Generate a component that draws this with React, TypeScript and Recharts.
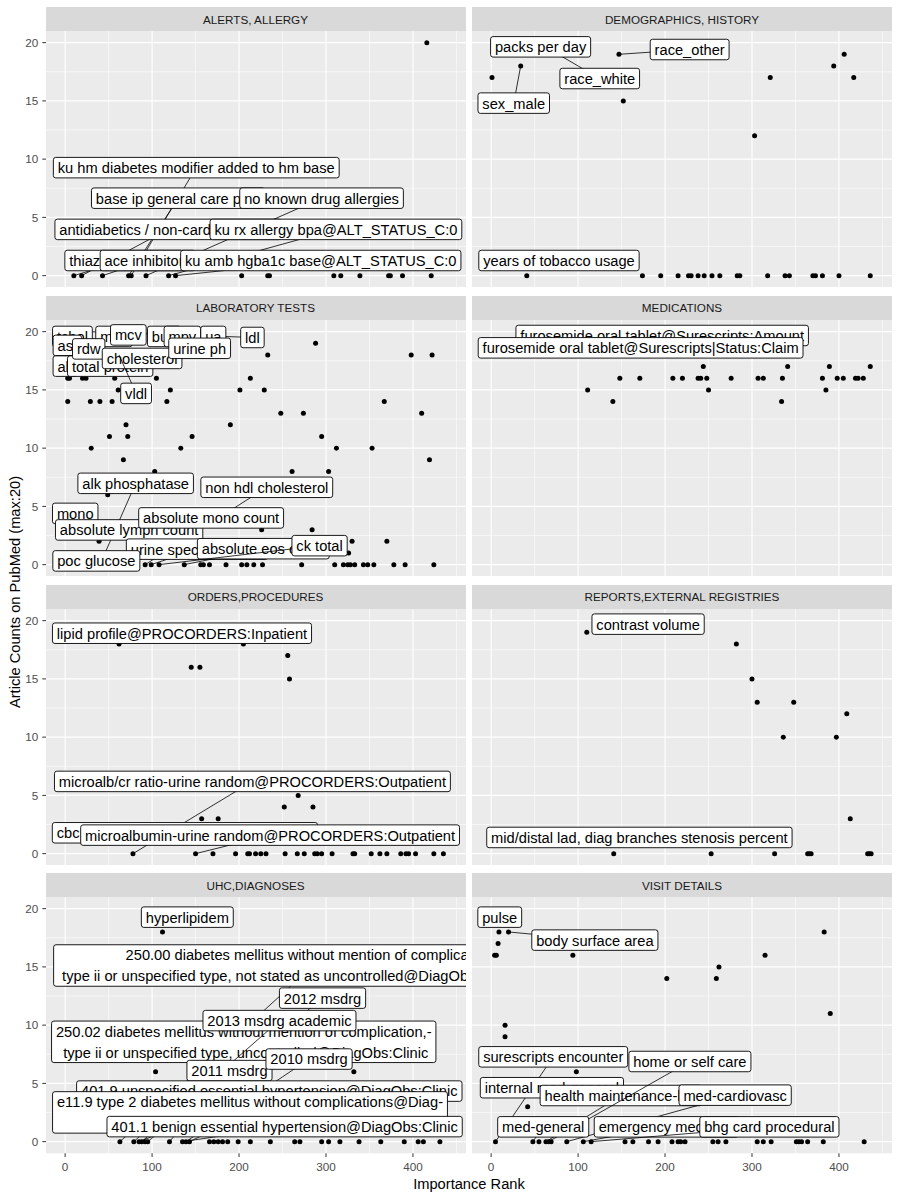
import React from 'react';
import { ScatterChart, Scatter, XAxis, YAxis, CartesianGrid } from 'recharts';

type Pt = [number, number];
// [text, label x, label y, point x, point y] - the point is the one the segment joins
type Lab = [string, number, number, number?, number?];

const FONT = '"Liberation Sans", Arial, sans-serif';

const X_TICKS = [0, 100, 200, 300, 400];
const X_MINOR = [50, 150, 250, 350, 450];
const Y_TICKS = [0, 5, 10, 15, 20];
const Y_MINOR = [2.5, 7.5, 12.5, 17.5];
const X_DOMAIN: [number, number] = [-22, 461];
const Y_DOMAIN: [number, number] = [-1, 21];

// ---- ALERTS, ALLERGY ----
const ALERTS_PTS: Pt[] = [
  [10, 0], [19, 0], [43, 0], [73, 0], [76, 0], [93, 0], [119, 0], [127, 0], [203, 0], [233, 0],
  [235, 0], [309, 0], [317, 0], [339, 0], [372, 0], [374, 0], [388, 0], [421, 0], [416, 20],
];
const ALERTS_LABELS: Lab[] = [
  ['ku hm diabetes modifier added to hm base', 150.8, 9.27, 76, 0],
  ['base ip general care plan', 130, 6.65, 73, 0],
  ['no known drug allergies', 294.9, 6.65, 93, 0],
  ['antidiabetics / non-cardiovascular', 118.4, 3.97, 19, 0],
  ['ku rx allergy bpa@ALT_STATUS_C:0', 311.4, 3.97, 119, 0],
  ['thiazide diuretics', 67.5, 1.3, 10, 0],
  ['ace inhibitors', 95, 1.3, 43, 0],
  ['ku amb hgba1c base@ALT_STATUS_C:0', 294, 1.3, 127, 0],
];

// ---- DEMOGRAPHICS, HISTORY ----
const DEMO_PTS: Pt[] = [
  [1, 17], [34, 18], [147, 19], [152, 15], [303, 12], [321, 17], [394, 18], [406, 19], [417, 17],
  [57, 20], [77, 19],
  [41, 0], [174, 0], [195, 0], [215, 0], [227, 0], [230, 0], [238, 0], [245, 0], [254, 0], [263, 0],
  [283, 0], [286, 0], [318, 0], [338, 0], [343, 0], [370, 0], [373, 0], [381, 0], [400, 0], [436, 0],
];
const DEMO_LABELS: Lab[] = [
  ['race_white', 124.9, 16.92, 77, 19],
  ['packs per day', 56.9, 19.64],
  ['race_other', 228.3, 19.41, 147, 19],
  ['sex_male', 26, 14.81, 34, 18],
  ['years of tobacco usage', 78, 1.3],
];

// ---- LABORATORY TESTS ----
const LAB_PTS: Pt[] = [
  [28, 20], [288, 19], [233, 18], [398, 18], [422, 18], [62, 18],
  [3, 16], [5, 16], [20, 16], [24, 16], [57, 16], [105, 16], [213, 16],
  [61, 15], [121, 15], [201, 15], [229, 15],
  [3, 14], [29, 14], [40, 14], [54, 14], [117, 14], [367, 14],
  [248, 13], [274, 13], [410, 13],
  [70, 12], [190, 12],
  [51, 11], [72, 11], [146, 11], [295, 11],
  [30, 10], [133, 10], [312, 10], [353, 10],
  [67, 9], [419, 9],
  [103, 8], [261, 8], [303, 8],
  [49, 6],
  [226, 3], [284, 3],
  [39, 2], [330, 2], [370, 2],
  [326, 1],
  [40, 0], [92, 0], [99, 0], [108, 0], [137, 0], [156, 0], [159, 0], [166, 0], [185, 0], [203, 0],
  [209, 0], [217, 0], [227, 0], [272, 0], [310, 0], [320, 0], [325, 0], [328, 0], [333, 0], [343, 0],
  [348, 0], [355, 0], [378, 0], [391, 0], [424, 0],
];
const LAB_LABELS: Lab[] = [
  ['ldl', 215.4, 19.5, 28, 20],
  ['tchol', 8.4, 19.59],
  ['mch', 56.2, 19.59],
  ['bun', 113.8, 19.59],
  ['mpv', 134.8, 19.59],
  ['ua', 170.4, 19.59],
  ['mcv', 72.7, 19.72],
  ['ast', 2.5, 18.82],
  ['alt', 0.1, 17.04],
  ['total protein', 51.8, 17.04],
  ['rdw', 27.1, 18.52],
  ['cholesterol', 88.5, 17.7],
  ['urine ph', 154.7, 18.57],
  ['vldl', 81.6, 14.7, 62, 18],
  ['alk phosphatase', 81.1, 6.98, 40, 0],
  ['non hdl cholesterol', 231.9, 6.64, 92, 0],
  ['mono', 11.6, 4.4],
  ['absolute lymph count', 73.6, 2.98],
  ['absolute mono count', 167.9, 4.01],
  ['urine specific gravity', 151.8, 1.33, 99, 0],
  ['poc glucose', 35.9, 0.32],
  ['absolute eos count', 227.9, 1.37, 137, 0],
  ['ck total', 292.6, 1.63, 108, 0],
];

// ---- MEDICATIONS ----
const MED_PTS: Pt[] = [
  [244, 17], [341, 17], [389, 17], [436, 17],
  [148, 16], [171, 16], [209, 16], [220, 16], [238, 16], [241, 16], [248, 16], [276, 16], [307, 16],
  [313, 16], [335, 16], [381, 16], [398, 16], [405, 16], [419, 16], [422, 16], [428, 16],
  [111, 15], [250, 15], [385, 15],
  [140, 14], [334, 14],
];
const MED_LABELS: Lab[] = [
  ['furosemide oral tablet@Surescripts:Amount', 196.7, 19.67],
  ['furosemide oral tablet@Surescripts|Status:Claim', 171.9, 18.61],
];

// ---- ORDERS,PROCEDURES ----
const ORD_PTS: Pt[] = [
  [62, 18], [205, 18], [256, 17], [145, 16], [155, 16], [258, 15],
  [268, 5], [252, 4], [285, 4], [157, 3], [176, 3],
  [78, 0], [150, 0], [170, 0], [196, 0], [210, 0], [212, 0], [219, 0], [225, 0], [231, 0], [253, 0],
  [267, 0], [275, 0], [287, 0], [290, 0], [295, 0], [307, 0], [331, 0], [333, 0], [352, 0], [362, 0],
  [370, 0], [386, 0], [392, 0], [395, 0], [403, 0], [424, 0], [435, 0],
];
const ORD_LABELS: Lab[] = [
  ['lipid profile@PROCORDERS:Inpatient', 134.4, 18.92],
  ['microalb/cr ratio-urine random@PROCORDERS:Outpatient', 215.4, 6.2, 78, 0],
  ['cbc w/ diff@PROCORDERS:Outpatient', 137.8, 1.79],
  ['microalbumin-urine random@PROCORDERS:Outpatient', 235.7, 1.59, 150, 0],
];

// ---- REPORTS,EXTERNAL REGISTRIES ----
const REP_PTS: Pt[] = [
  [110, 19], [282, 18], [300, 15], [306, 13], [348, 13], [409, 12], [336, 10], [397, 10], [413, 3],
  [141, 0], [253, 0], [326, 0], [364, 0], [366, 0], [368, 0], [433, 0], [435, 0], [437, 0],
];
const REP_LABELS: Lab[] = [
  ['contrast volume', 180.5, 19.7],
  ['mid/distal lad, diag branches stenosis percent', 170.5, 1.39],
];

// ---- UHC,DIAGNOSES ----
const UHC_PTS: Pt[] = [
  [112, 18], [104, 6], [332, 6],
  [63, 0], [79, 0], [85, 0], [88, 0], [92, 0], [95, 0], [120, 0], [135, 0], [139, 0], [143, 0],
  [166, 0], [171, 0], [176, 0], [181, 0], [187, 0], [199, 0], [213, 0], [236, 0], [264, 0], [270, 0],
  [295, 0], [303, 0], [316, 0], [338, 0], [363, 0], [390, 0], [406, 0], [412, 0], [431, 0],
];
const UHC_LABELS: Lab[] = [
  ['hyperlipidem', 140.5, 19.27],
  ['250.00 diabetes mellitus without mention of complication,-\n type ii or unspecified type, not stated as uncontrolled@DiagObs:Clinic Visit Dx', 285.5, 15.12, 63, 0],
  ['2012 msdrg', 296, 12.32, 95, 0],
  ['250.02 diabetes mellitus without mention of complication,-\n type ii or unspecified type, uncontrolled@DiagObs:Clinic', 205.4, 8.57, 79, 0],
  ['2013 msdrg academic', 246.5, 10.39, 88, 0],
  ['2011 msdrg', 189, 6.1, 120, 0],
  ['2010 msdrg', 280.5, 7.09, 139, 0],
  ['401.9 unspecified essential hypertension@DiagObs:Clinic', 234.8, 4.34, 85, 0],
  ['e11.9 type 2 diabetes mellitus without complications@Diag-\nObs:Clinic', 212.6, 2.51, 143, 0],
  ['401.1 benign essential hypertension@DiagObs:Clinic', 252.4, 1.29, 135, 0],
];

// ---- VISIT DETAILS ----
const VISIT_PTS: Pt[] = [
  [9, 18], [20, 18], [8, 17], [4, 16], [6, 16], [94, 16], [383, 18], [315, 16], [262, 15], [202, 14],
  [259, 14], [390, 11], [16, 10], [16, 9], [98, 6], [42, 3],
  [5, 0], [48, 0], [55, 0], [63, 0], [66, 0], [69, 0], [87, 0], [106, 0], [115, 0], [154, 0],
  [163, 0], [181, 0], [192, 0], [208, 0], [215, 0], [218, 0], [223, 0], [255, 0], [261, 0], [270, 0],
  [306, 0], [313, 0], [322, 0], [351, 0], [354, 0], [357, 0], [364, 0], [382, 0], [429, 0],
];
const VISIT_LABELS: Lab[] = [
  ['pulse', 9.9, 19.27],
  ['body surface area', 119.3, 17.3, 20, 18],
  ['surescripts encounter', 71.4, 7.28, 5, 0],
  ['internal med-general', 69.9, 4.63],
  ['health maintenance-hm', 149.5, 3.96, 63, 0],
  ['home or self care', 228.6, 6.88, 66, 0],
  ['med-cardiovasc', 280.6, 3.99, 87, 0],
  ['med-general', 59.9, 1.27, 48, 0],
  ['emergency medicine', 201.4, 1.27, 106, 0],
  ['bhg card procedural', 320, 1.27, 115, 0],
];

const FACETS = [
  { title: 'ALERTS, ALLERGY', pts: ALERTS_PTS, labs: ALERTS_LABELS },
  { title: 'DEMOGRAPHICS, HISTORY', pts: DEMO_PTS, labs: DEMO_LABELS },
  { title: 'LABORATORY TESTS', pts: LAB_PTS, labs: LAB_LABELS },
  { title: 'MEDICATIONS', pts: MED_PTS, labs: MED_LABELS },
  { title: 'ORDERS,PROCEDURES', pts: ORD_PTS, labs: ORD_LABELS },
  { title: 'REPORTS,EXTERNAL REGISTRIES', pts: REP_PTS, labs: REP_LABELS },
  { title: 'UHC,DIAGNOSES', pts: UHC_PTS, labs: UHC_LABELS },
  { title: 'VISIT DETAILS', pts: VISIT_PTS, labs: VISIT_LABELS },
];

// layout
const PANEL_W = 420;
const PANEL_H = 256.3;
const STRIP_H = 24;
const AXIS_W = 46;
const AXIS_H = 30;
const COL_X = [45.5, 472];
const ROW_Y = [7, 295.8, 584.6, 873.4];

const LABEL_FS = 14.67;
const PAD = 4.4;
const BOX_H = 20.5;
const LINE_H = 21;

let ctx: CanvasRenderingContext2D | null = null;
function textWidth(s: string) {
  if (!ctx) ctx = document.createElement('canvas').getContext('2d');
  if (!ctx) return s.length * 7;
  ctx.font = `${LABEL_FS}px "Liberation Sans"`;
  return ctx.measureText(s).width;
}

const Dot = (p: any) => <circle cx={p.cx} cy={p.cy} r={2.5} fill="#000" />;

const LabelBox = (p: any) => {
  const { cx, cy, payload } = p;
  if (!payload || !payload.text) return <g />;
  const lines: string[] = payload.text.split('\n');
  const w = Math.max(...lines.map(textWidth)) + 2 * PAD;
  const h = BOX_H + (lines.length - 1) * LINE_H;
  return (
    <g>
      <rect x={cx - w / 2} y={cy - h / 2} width={w} height={h} rx={2.4} ry={2.4}
        fill="#FFFFFF" stroke="#000" strokeWidth={0.9} />
      <text textAnchor="middle" fontFamily={FONT} fontSize={LABEL_FS} fill="#000" style={{ whiteSpace: 'pre' }}>
        {lines.map((l, i) => (
          <tspan key={i} x={cx} y={cy + (i - (lines.length - 1) / 2) * LINE_H + 5.4}>{l}</tspan>
        ))}
      </text>
    </g>
  );
};

const SEG = { stroke: '#000', strokeWidth: 0.8, fill: 'none' };

function Facet({ title, pts, labs, col, row }: { title: string; pts: Pt[]; labs: Lab[]; col: number; row: number }) {
  const left = col === 0;
  const bottom = row === 3;
  const pointData = pts.map(([x, y]) => ({ x, y }));
  return (
    <>
      <div style={{
        position: 'absolute', left: COL_X[col], top: ROW_Y[row], width: PANEL_W, height: STRIP_H,
        background: '#D9D9D9', color: '#1A1A1A', fontFamily: FONT, fontSize: 11.7,
        display: 'flex', alignItems: 'center', justifyContent: 'center',
      }}>{title}</div>
      <div style={{ position: 'absolute', left: COL_X[col] - (left ? AXIS_W : 0), top: ROW_Y[row] + STRIP_H }}>
        <ScatterChart width={PANEL_W + (left ? AXIS_W : 0)} height={PANEL_H + (bottom ? AXIS_H : 0)}
          margin={{ top: 0, right: 0, bottom: 0, left: 0 }}>
          <CartesianGrid fill="#EBEBEB" stroke="#FFFFFF" strokeWidth={0.55}
            horizontalValues={Y_MINOR} verticalValues={X_MINOR} />
          <CartesianGrid stroke="#FFFFFF" strokeWidth={1.1}
            horizontalValues={Y_TICKS} verticalValues={X_TICKS} />
          <XAxis type="number" dataKey="x" domain={X_DOMAIN} allowDataOverflow ticks={X_TICKS}
            hide={!bottom} height={AXIS_H} axisLine={false} tickSize={3.7} tickMargin={6}
            tickLine={{ stroke: '#333333' }}
            tick={{ fill: '#4D4D4D', fontSize: 11.7, fontFamily: FONT }} />
          <YAxis type="number" dataKey="y" domain={Y_DOMAIN} allowDataOverflow ticks={Y_TICKS}
            hide={!left} width={AXIS_W} axisLine={false} tickSize={3.7} tickMargin={4}
            tickLine={{ stroke: '#333333' }}
            tick={{ fill: '#4D4D4D', fontSize: 11.7, fontFamily: FONT }} />
          <Scatter data={pointData} shape={Dot} fill="#000" isAnimationActive={false} />
          {labs.map(([text, x, y, tx, ty], i) => {
            const hasSeg = tx !== undefined && ty !== undefined;
            const data = hasSeg ? [{ x: tx, y: ty, text: '' }, { x, y, text }] : [{ x, y, text }];
            return (
              <Scatter key={i} data={data} shape={LabelBox} fill="#000"
                line={hasSeg ? SEG : false} isAnimationActive={false} />
            );
          })}
        </ScatterChart>
      </div>
    </>
  );
}

export default function App() {
  return (
    <div style={{ position: 'absolute', left: 0, top: 0, width: 900, height: 1200, background: '#FFFFFF' }}>
      {FACETS.map((f, i) => (
        <Facet key={f.title} title={f.title} pts={f.pts} labs={f.labs} col={i % 2} row={Math.floor(i / 2)} />
      ))}
      <svg width={900} height={1200} style={{ position: 'absolute', left: 0, top: 0, pointerEvents: 'none' }}>
        <text x={469} y={1189} textAnchor="middle" fontFamily={FONT} fontSize={14.67} fill="#000">Importance Rank</text>
        <text x={20} y={592} textAnchor="middle" fontFamily={FONT} fontSize={14.67} fill="#000"
          transform="rotate(-90 20 592)">Article Counts on PubMed (max:20)</text>
      </svg>
    </div>
  );
}
